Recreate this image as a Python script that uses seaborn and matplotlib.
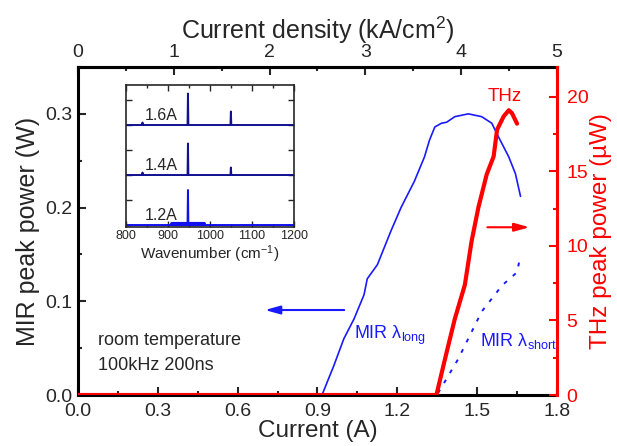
import matplotlib
matplotlib.use("Agg")
import matplotlib.pyplot as plt
import seaborn as sns
from matplotlib.ticker import MultipleLocator, FormatStrFormatter

# MIR long-wavelength peak power (W) vs current (A)
i_long = [0.917, 0.961, 0.999, 1.037, 1.075, 1.087, 1.125, 1.176, 1.214, 1.264, 1.302,
          1.321, 1.341, 1.366, 1.385, 1.416, 1.467, 1.517, 1.555, 1.581, 1.619, 1.644, 1.663]
p_long = [0.0, 0.031, 0.060, 0.081, 0.107, 0.124, 0.139, 0.175, 0.200, 0.228, 0.254,
          0.272, 0.286, 0.290, 0.291, 0.297, 0.300, 0.297, 0.290, 0.275, 0.254, 0.236, 0.212]

# MIR short-wavelength peak power (W)
i_short = [1.353, 1.428, 1.517, 1.594, 1.650, 1.663]
p_short = [0.002, 0.038, 0.089, 0.117, 0.131, 0.149]

# THz peak power (uW)
i_thz = [0.0, 1.347, 1.379, 1.416, 1.454, 1.479, 1.505, 1.536, 1.562, 1.575, 1.600, 1.619, 1.631, 1.650]
p_thz = [0.0, 0.0, 2.4, 5.1, 7.4, 10.3, 12.6, 14.8, 16.0, 17.8, 18.7, 19.1, 18.9, 18.2]

# inset spectra (offset by 0, 1, 2)
spec_labels = ["1.2A", "1.4A", "1.6A"]
wn_12 = [800, 909, 910, 985, 986, 947, 948, 949, 1200]
s_12 = [0.0, 0.0, 0.03, 0.03, 0.0, 0.0, 0.70, 0.0, 0.0]
wn_14 = [800, 839, 840, 841, 947, 948, 949, 1049, 1050, 1051, 1200]
s_14 = [0.0, 0.0, 0.05, 0.0, 0.0, 0.63, 0.0, 0.0, 0.15, 0.0, 0.0]
wn_16 = [800, 839, 840, 841, 947, 948, 949, 1049, 1050, 1051, 1200]
s_16 = [0.0, 0.0, 0.05, 0.0, 0.0, 0.63, 0.0, 0.0, 0.27, 0.0, 0.0]

sns.set_style("ticks")
plt.rcParams['font.family'] = ['Liberation Sans', 'DejaVu Sans']
plt.rcParams['mathtext.fontset'] = 'custom'
plt.rcParams['mathtext.rm'] = 'Liberation Sans'
plt.rcParams['mathtext.it'] = 'Liberation Sans'

fig = plt.figure(figsize=(6.17, 4.46), dpi=100)
ax = fig.add_axes([0.1264, 0.1143, 0.7763, 0.7355])
ax2 = ax.twinx()

blue = "#1a1aff"
red = "#ff0000"

sns.lineplot(x=i_long, y=p_long, ax=ax, color=blue, lw=1.2, sort=False, estimator=None)
sns.lineplot(x=i_short, y=p_short, ax=ax, color=blue, lw=1.4, sort=False, estimator=None,
             linestyle=(0, (2, 4)))
sns.lineplot(x=i_thz, y=p_thz, ax=ax2, color=red, lw=3, sort=False, estimator=None)

ax.set_xlim(0, 1.8)
ax.set_ylim(0, 0.35)
ax2.set_ylim(0, 22)

ax.xaxis.set_major_locator(MultipleLocator(0.3))
ax.xaxis.set_minor_locator(MultipleLocator(0.15))
ax.xaxis.set_major_formatter(FormatStrFormatter("%.1f"))
ax.yaxis.set_major_locator(MultipleLocator(0.1))
ax.yaxis.set_minor_locator(MultipleLocator(0.05))
ax.yaxis.set_major_formatter(FormatStrFormatter("%.1f"))
ax2.yaxis.set_major_locator(MultipleLocator(5))
ax2.yaxis.set_minor_locator(MultipleLocator(2.5))

ax.tick_params(which="both", direction="in", labelsize=14, width=1.5, pad=4)
ax.tick_params(axis="x", which="both", pad=6)
ax.tick_params(which="major", length=6)
ax.tick_params(which="minor", length=3)
ax2.tick_params(which="both", direction="in", labelsize=14, width=1.5, colors=red, pad=7)
ax2.tick_params(which="major", length=6)
ax2.tick_params(which="minor", length=3)

for s in ["left", "bottom", "top"]:
    ax.spines[s].set_linewidth(2.2)
    ax.spines[s].set_color("black")
for s in ["left", "bottom", "top"]:
    ax2.spines[s].set_visible(False)
ax2.spines["right"].set_linewidth(2.2)
ax2.spines["right"].set_color(red)
ax.spines["right"].set_visible(False)

ax.set_xlabel("Current (A)", fontsize=17.5, labelpad=0)
ax.set_ylabel("MIR peak power (W)", fontsize=18, labelpad=4)
ax2.set_ylabel("THz peak power (\u00b5W)", fontsize=17.5, color=red, labelpad=1)

top = ax.secondary_xaxis("top", functions=(lambda x: x * 5 / 1.8, lambda x: x * 1.8 / 5))
top.set_xticks([0, 1, 2, 3, 4, 5])
top.xaxis.set_minor_locator(MultipleLocator(0.5))
top.tick_params(which="both", direction="in", labelsize=14, width=1.5, pad=4)
top.tick_params(which="major", length=6)
top.tick_params(which="minor", length=3)
top.spines["top"].set_linewidth(2.2)
top.set_xlabel("Current density (kA/cm$^2$)", fontsize=18, labelpad=4)

# arrows
ax.annotate("", xy=(0.692, 0.0907), xytext=(1.011, 0.0907),
            arrowprops=dict(arrowstyle="-|>,head_length=0.9,head_width=0.25", color=blue, lw=1.5))
ax.annotate("", xy=(1.707, 0.179), xytext=(1.528, 0.179),
            arrowprops=dict(arrowstyle="-|>,head_length=0.9,head_width=0.25", color=red, lw=1.5))

# annotations
ax.text(0.075, 0.0534, "room temperature", fontsize=13, va="baseline")
ax.text(0.075, 0.0267, "100kHz 200ns", fontsize=13, va="baseline")
ax.text(1.037, 0.060, "MIR \u03bb$_{\\mathrm{long}}$", fontsize=13, color=blue, va="baseline")
ax.text(1.511, 0.052, "MIR \u03bb$_{\\mathrm{short}}$", fontsize=13, color=blue, va="baseline")
ax2.text(1.605, 19.7, "THz", fontsize=13.5, color=red, ha="center", va="baseline")

# inset
ins = fig.add_axes([0.2037, 0.491, 0.2728, 0.3184])
inset_specs = [(wn_12, s_12, 0, "#1010ee"), (wn_14, s_14, 1, "#101090"), (wn_16, s_16, 2, "#101090")]
for (w, s, off, c), lab in zip(inset_specs, spec_labels):
    sns.lineplot(x=w, y=[v + off for v in s], ax=ins, color=c, lw=1.4, sort=False, estimator=None)
    ins.text(846, off + 0.1, lab, fontsize=11.5, va="baseline")
ins.plot([910, 985], [0.03, 0.03], color="#1010ee", lw=3)
ins.set_xlim(800, 1200)
ins.set_ylim(-0.04, 2.8)
ins.set_xticks([800, 900, 1000, 1100, 1200])
ins.xaxis.set_minor_locator(MultipleLocator(50))
ins.yaxis.set_major_locator(MultipleLocator(0.5))
ins.set_yticklabels([])
ins.tick_params(which="both", direction="in", top=True, right=True, labelsize=9, width=1, pad=2)
ins.tick_params(which="major", length=4)
ins.tick_params(which="minor", length=2)
for s in ins.spines.values():
    s.set_linewidth(1.2)
ins.set_xlabel("Wavenumber (cm$^{-1}$)", fontsize=11, labelpad=1)

fig.savefig("out.png", dpi=100)
